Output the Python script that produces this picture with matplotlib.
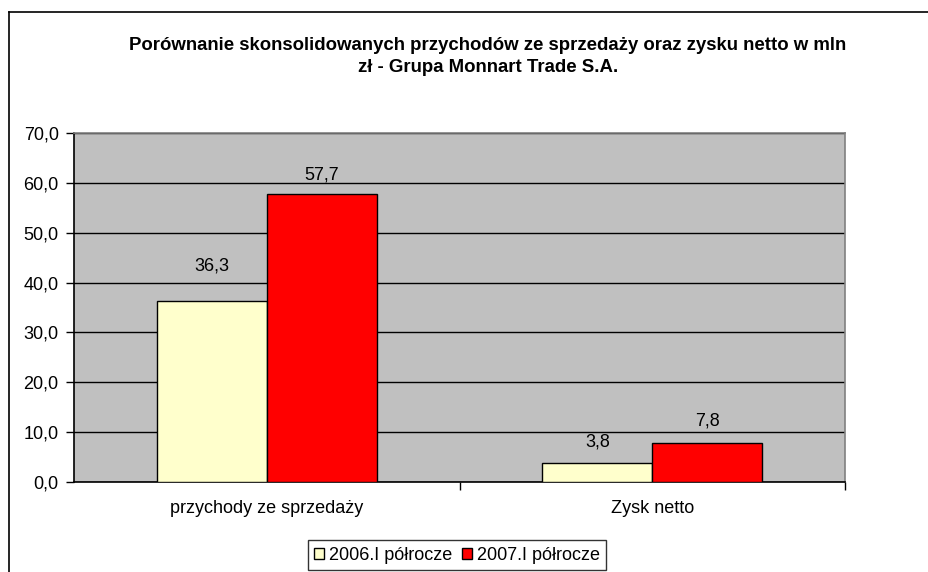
import matplotlib
matplotlib.use("Agg")
import matplotlib.pyplot as plt
from matplotlib.lines import Line2D
from matplotlib.ticker import MultipleLocator, FuncFormatter
import numpy as np

plt.rcParams['font.family'] = ['Liberation Sans', 'DejaVu Sans']

categories = ["przychody ze sprzedaży", "Zysk netto"]
series_names = ["2006.I półrocze", "2007.I półrocze"]
values_2006 = [36.3, 3.8]
values_2007 = [57.7, 7.8]
colors = ["#FFFFCC", "#FF0000"]
title = "Porównanie skonsolidowanych przychodów ze sprzedaży oraz zysku netto w mln\nzł - Grupa Monnart Trade S.A."

# label offsets above bar tops (pixels)
label_offsets = [[35, 21], [19, 22]]

fig = plt.figure(figsize=(9.29, 5.72), dpi=100)
ax = fig.add_axes([74/929, 1-482/572, (845-74)/929, (482-133)/572])
ax.set_facecolor("#C0C0C0")

x = np.arange(len(categories))
w = 0.285
bars = []
for i, (vals, c, name) in enumerate(zip([values_2006, values_2007], colors, series_names)):
    b = ax.bar(x + (i - 0.5) * w, vals, w, color=c, edgecolor="black", linewidth=1.0, label=name, zorder=3)
    bars.append(b)
    for j, (rect, v) in enumerate(zip(b, vals)):
        ax.annotate(f"{v:.1f}".replace(".", ","), (rect.get_x() + rect.get_width()/2, v),
                    xytext=(0, label_offsets[i][j] * 0.72), textcoords="offset points",
                    ha="center", va="center", fontsize=13)

ax.set_xlim(-0.5, 1.5)
ax.set_ylim(0, 70)
ax.yaxis.set_major_locator(MultipleLocator(10))
ax.yaxis.set_major_formatter(FuncFormatter(lambda v, p: f"{v:.1f}".replace(".", ",")))
ax.grid(axis="y", color="black", linewidth=1.0, zorder=1)
ax.set_axisbelow(True)

ax.set_xticks([0.5, 1.5], minor=False)
ax.set_xticklabels([])
ax.set_xticks(x, minor=True)
ax.set_xticklabels(categories, minor=True, fontsize=13)
ax.tick_params(axis="x", which="minor", length=0, pad=13)
ax.tick_params(axis="x", which="major", length=6, width=1, direction="out", color="black")
ax.tick_params(axis="y", length=6, width=1, labelsize=13, pad=5)

for s in ["top", "right"]:
    ax.spines[s].set_color("#808080")
    ax.spines[s].set_linewidth(1.2)
for s in ["left", "bottom"]:
    ax.spines[s].set_color("black")
    ax.spines[s].set_linewidth(1.2)

fig.text(488/929, 1-46/572, title.split("\n")[0], ha="center", va="center", fontsize=13.4, fontweight="bold")
fig.text(488/929, 1-68/572, title.split("\n")[1], ha="center", va="center", fontsize=13.4, fontweight="bold")

# outer chart border (partially visible)
fig.add_artist(Line2D([9/929, 9/929], [0, 1-12/572], color="black", linewidth=1.2, transform=fig.transFigure))
fig.add_artist(Line2D([9/929, 1], [1-12/572, 1-12/572], color="black", linewidth=1.2, transform=fig.transFigure))

leg = fig.legend(handles=[bars[0], bars[1]], labels=series_names, loc="center", bbox_to_anchor=(457/929, 1-555/572),
                 ncol=2, fontsize=13, frameon=True, fancybox=False, edgecolor="black", handlelength=0.55,
                 handleheight=0.55, handletextpad=0.3, columnspacing=0.5, borderpad=0.35, borderaxespad=0)
leg.get_frame().set_linewidth(1.0)

fig.savefig("out.png", dpi=100)
